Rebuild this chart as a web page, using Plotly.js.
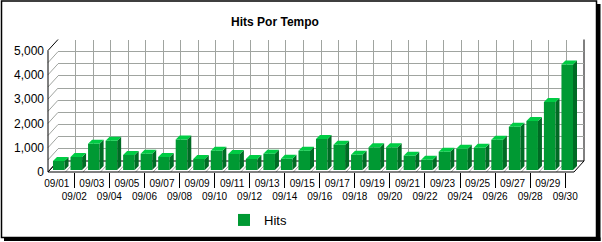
<!DOCTYPE html>
<html><head><meta charset="utf-8">
<script src="https://cdn.plot.ly/plotly-3.0.1.min.js"></script>
<style>html,body{margin:0;padding:0;background:#fff}#chart{width:602px;height:242px}</style>
</head><body><div id="chart"></div>
<script>
// ---- data ----
var categories = ["09/01","09/02","09/03","09/04","09/05","09/06","09/07","09/08","09/09","09/10",
  "09/11","09/12","09/13","09/14","09/15","09/16","09/17","09/18","09/19","09/20",
  "09/21","09/22","09/23","09/24","09/25","09/26","09/27","09/28","09/29","09/30"];
var hits = [370,530,1080,1200,615,670,530,1260,450,790,
  655,450,670,460,790,1280,1040,630,940,940,
  590,420,750,870,915,1240,1775,2020,2800,4340];
var yTicks = [0,1000,2000,3000,4000,5000];
var seriesName = "Hits";

// ---- geometry (pixels) ----
var W = 602, H = 242;
var FX0 = 48, FX1 = 574, FY0 = 172, FY1 = 50.5;   // front plane
var DX = 10, DY = 11;                              // wall depth
var BOX = 2, BOY = 2;                               // bar offset into depth
var BD = 4;                                         // bar depth
var YMAX = 5000, N = categories.length;
var catPx = (FX1 - FX0) / N;
var valPx = (FY0 - FY1) / YMAX;
function fx(px){ return px / W; }
function fy(py){ return 1 - py / H; }

var colFront = '#009933', colTop = '#00cc44', colSide = '#006b24';
var grid = '#a0a4a0';

// ---- bars ----
var xs = categories.map(function(c,i){ return i + 0.5; });
var bw = 0.66;
var ddx = BD / catPx, ddy = BD / valPx;
var topX = [], topY = [], sideX = [], sideY = [];
hits.forEach(function(v,i){
  var l = xs[i] - bw/2, r = xs[i] + bw/2;
  topX.push(l, r, r+ddx, l+ddx, l, null);
  topY.push(v, v, v+ddy, v+ddy, v, null);
  sideX.push(r, r, r+ddx, r+ddx, r, null);
  sideY.push(0, v, v+ddy, ddy, 0, null);
});

var traces = [
  {type:'scatter', mode:'markers', x:[], y:[], xaxis:'x', yaxis:'y', showlegend:false, hoverinfo:'skip'},
  {type:'scatter', mode:'markers', x:[], y:[], xaxis:'x2', yaxis:'y2', showlegend:false, hoverinfo:'skip'},
  {type:'scatter', mode:'markers', x:[], y:[], xaxis:'x4', yaxis:'y4', showlegend:false, hoverinfo:'skip'},
  {type:'bar', x: xs, y: hits, width: bw, name: seriesName, xaxis:'x3', yaxis:'y3',
   marker:{color: colFront, line:{width:0}}, hoverinfo:'skip', showlegend:true},
  {type:'scatter', mode:'lines', x: sideX, y: sideY, fill:'toself', fillcolor: colSide,
   line:{width:0, color: colSide}, xaxis:'x3', yaxis:'y3', showlegend:false, hoverinfo:'skip'},
  {type:'scatter', mode:'lines', x: topX, y: topY, fill:'toself', fillcolor: colTop,
   line:{width:0, color: colTop}, xaxis:'x3', yaxis:'y3', showlegend:false, hoverinfo:'skip'}
];

// ---- decoration shapes (walls, floor, frame) ----
var shapes = [];
function line(x0,y0,x1,y1,c,w){
  shapes.push({type:'line', xref:'paper', yref:'paper', x0:fx(x0), y0:fy(y0), x1:fx(x1), y1:fy(y1),
    line:{color:c, width:w||1}, layer:'below'});
}
for (var v = 0; v <= YMAX; v += 500) {
  var yf = FY0 - v * valPx;
  line(FX0, yf, FX0 + DX, yf - DY, v === 0 || v === YMAX ? '#000' : grid, 1);
}
for (var k = 0; k <= N; k++) {
  var xf = FX0 + k * catPx;
  line(xf, FY0, xf + DX, FY0 - DY, (k === 0 || k === N) ? '#000' : grid, 1);
}
line(FX0, FY1, FX0, FY0, '#000', 1);
line(FX0, FY0, FX1, FY0, '#000', 1);
line(FX0 + DX, FY0 - DY, FX1 + DX, FY0 - DY, '#000', 1);
line(FX1 + DX, FY1 - DY, FX1 + DX, FY0 - DY, '#000', 1);

shapes.push({type:'rect', xref:'paper', yref:'paper', x0:fx(1.5), x1:fx(596.5), y0:fy(1), y1:fy(237.5),
  line:{color:'#000', width:1.5}, layer:'above'});
shapes.push({type:'rect', xref:'paper', yref:'paper', x0:fx(596.5), x1:fx(600.5), y0:fy(4), y1:fy(241),
  fillcolor:'#000', line:{width:0}, layer:'above'});
shapes.push({type:'rect', xref:'paper', yref:'paper', x0:fx(4), x1:fx(600.5), y0:fy(237.5), y1:fy(241),
  fillcolor:'#000', line:{width:0}, layer:'above'});

var font = {family:'"Liberation Sans", Arial, sans-serif', color:'#000'};
var oddVals = [], oddText = [], evenVals = [], evenText = [];
categories.forEach(function(c,i){
  if (i % 2 === 0) { oddVals.push(xs[i]); oddText.push(c); }
  else { evenVals.push(xs[i]); evenText.push(c); }
});

var layout = {
  width: W, height: H,
  margin:{l:0, r:0, t:0, b:0, pad:0},
  paper_bgcolor:'#fff', plot_bgcolor:'rgba(0,0,0,0)',
  font: font,
  title:{text:'<b>Hits Por Tempo</b>', x: 275/W, xanchor:'center', y: fy(22), yanchor:'middle',
    font:{family:font.family, size:12, color:'#000'}},
  showlegend:true,
  legend:{x: fx(224), y: fy(220), xanchor:'left', yanchor:'middle', orientation:'h',
    bgcolor:'rgba(0,0,0,0)', font:{family:font.family, size:13, color:'#000'}},
  xaxis:{domain:[fx(FX0+DX), fx(FX1+DX)], range:[0,N], anchor:'y', tickmode:'array',
    tickvals: categories.map(function(c,i){return i;}).concat([N]),
    showgrid:true, gridcolor:grid, gridwidth:1, showticklabels:false, ticks:'', zeroline:false, showline:false, fixedrange:true},
  yaxis:{domain:[fy(FY0-DY), fy(FY1-DY)], range:[0,YMAX], anchor:'x', dtick:500, tick0:0, tickmode:'linear',
    showgrid:true, gridcolor:grid, gridwidth:1, showticklabels:false, ticks:'', zeroline:false, showline:false, fixedrange:true},
  xaxis2:{domain:[fx(FX0), fx(FX1)], range:[0,N], anchor:'y2', tickmode:'array',
    tickvals: oddVals, ticktext: oddText, tickangle:0, ticks:'', showgrid:false, zeroline:false,
    ticklabelstandoff:4, tickfont:{family:font.family, size:10, color:'#000'}, fixedrange:true},
  yaxis2:{domain:[fy(FY0), fy(FY1)], range:[0,YMAX], anchor:'x2', tickmode:'array',
    tickvals: yTicks, tickformat:',d', ticks:'', showgrid:false, zeroline:false,
    ticklabelstandoff:3, tickfont:{family:font.family, size:12, color:'#000'}, fixedrange:true},
  xaxis4:{domain:[fx(FX0), fx(FX1)], range:[0,N], anchor:'y4', tickmode:'array',
    tickvals: evenVals, ticktext: evenText, tickangle:0, ticks:'outside', ticklen:15, tickcolor:'#000', tickwidth:1,
    showgrid:false, zeroline:false, ticklabelstandoff:0, tickfont:{family:font.family, size:10, color:'#000'}, fixedrange:true},
  yaxis4:{domain:[fy(FY0), fy(FY1)], range:[0,YMAX], anchor:'x4', visible:false, fixedrange:true},
  xaxis3:{domain:[fx(FX0+BOX), fx(FX0+BOX+catPx*(N+1))], range:[0,N+1], anchor:'y3',
    visible:false, fixedrange:true},
  yaxis3:{domain:[fy(FY0-BOY), fy(FY1-BOY)], range:[0,YMAX], anchor:'x3',
    visible:false, fixedrange:true},
  shapes: shapes
};

Plotly.newPlot('chart', traces, layout, {staticPlot:true, displayModeBar:false});
</script></body></html>
